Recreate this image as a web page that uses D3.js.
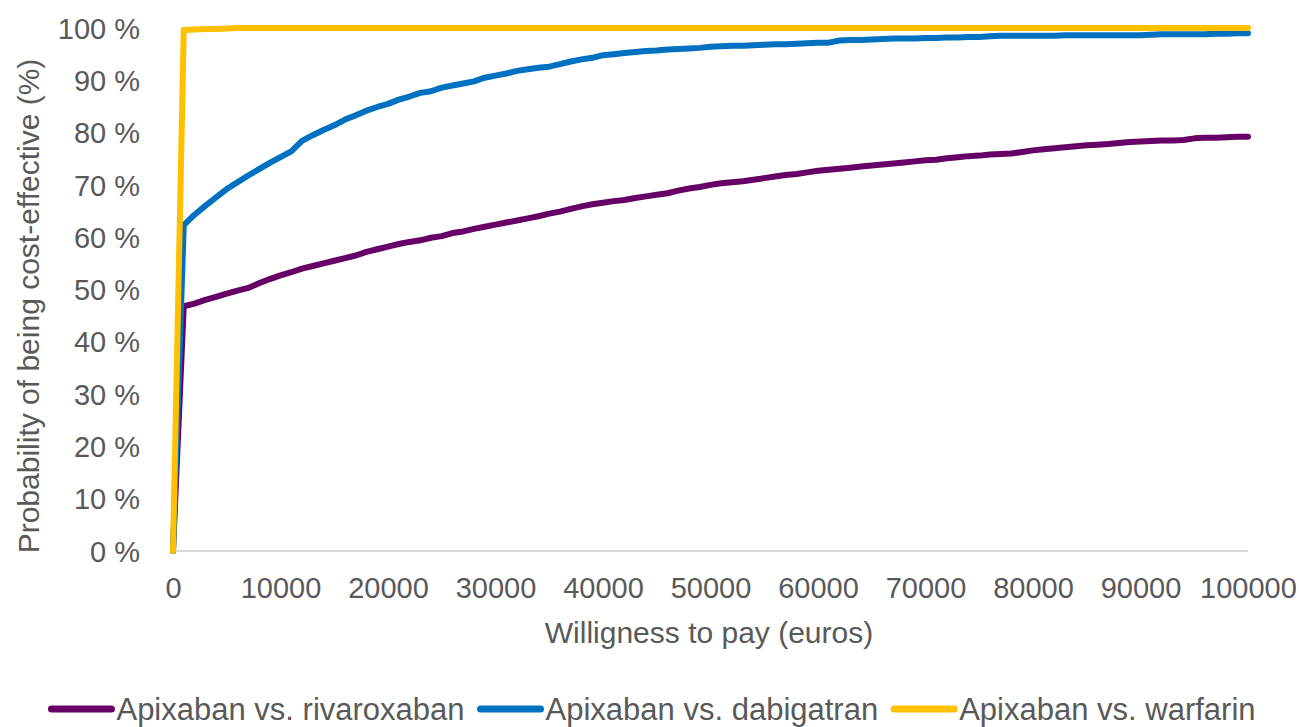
<!DOCTYPE html>
<html lang="en">
<head>
  <meta charset="UTF-8" />
  <title>Cost-effectiveness acceptability curves</title>
  <style>
    html, body {
      margin: 0; padding: 0;
      background: #fff;
      overflow: hidden;
    }
    svg { display: block; }
    text {
      font-family: "Liberation Sans", Arial, sans-serif;
      fill: #595959;
    }
  </style>
  <script src="https://d3js.org/d3.v7.min.js"></script>
</head>
<body>
  <svg id="chart" width="1299" height="727"></svg>

  <script>
    // willingness to pay, one point every 1000 euros
    const wtp = d3.range(0, 100001, 1000);

    const rivaroxaban = [
      0, 46.8, 47.3, 48.0, 48.6, 49.2, 49.8, 50.3, 51.2, 52.0,
      52.7, 53.3, 54.0, 54.5, 55.0, 55.5, 56.0, 56.5, 57.2, 57.7,
      58.2, 58.7, 59.1, 59.4, 59.9, 60.2, 60.8, 61.1, 61.6, 62.0,
      62.4, 62.8, 63.2, 63.6, 64.0, 64.5, 64.9, 65.4, 65.9, 66.3,
      66.6, 66.9, 67.1, 67.5, 67.8, 68.1, 68.4, 68.9, 69.3, 69.6,
      70.0, 70.3, 70.5, 70.7, 71.0, 71.3, 71.6, 71.9, 72.1, 72.4,
      72.7, 72.9, 73.1, 73.3, 73.5, 73.7, 73.9, 74.1, 74.3, 74.5,
      74.7, 74.8, 75.1, 75.3, 75.5, 75.6, 75.8, 75.9, 76.0, 76.3,
      76.6, 76.8, 77.0, 77.2, 77.4, 77.6, 77.7, 77.8, 78.0, 78.2,
      78.3, 78.4, 78.5, 78.5, 78.6, 78.9, 79.0, 79.0, 79.1, 79.2,
      79.2
    ];

    const dabigatran = [
      0, 62.3, 64.3, 66.0, 67.6, 69.2, 70.5, 71.8, 73.0, 74.2,
      75.3, 76.4, 78.4, 79.5, 80.5, 81.4, 82.5, 83.3, 84.2, 84.9,
      85.5, 86.3, 86.9, 87.6, 87.9, 88.6, 89.0, 89.4, 89.8, 90.5,
      90.9, 91.3, 91.8, 92.1, 92.4, 92.6, 93.1, 93.6, 94.0, 94.3,
      94.8, 95.0, 95.2, 95.4, 95.6, 95.7, 95.9, 96.0, 96.1, 96.2,
      96.4, 96.5, 96.6, 96.6, 96.7, 96.8, 96.9, 96.9, 97.0, 97.1,
      97.2, 97.2, 97.6, 97.7, 97.7, 97.8, 97.9, 98.0, 98.0, 98.0,
      98.1, 98.1, 98.2, 98.2, 98.3, 98.3, 98.4, 98.5, 98.5, 98.5,
      98.5, 98.5, 98.5, 98.6, 98.6, 98.6, 98.6, 98.6, 98.6, 98.6,
      98.6, 98.7, 98.8, 98.8, 98.8, 98.8, 98.8, 98.9, 98.9, 99.0,
      99.0
    ];

    const warfarin = [
      0, 99.6, 99.7, 99.8, 99.8, 99.9, 100, 100, 100, 100,
      100, 100, 100, 100, 100, 100, 100, 100, 100, 100,
      100, 100, 100, 100, 100, 100, 100, 100, 100, 100,
      100, 100, 100, 100, 100, 100, 100, 100, 100, 100,
      100, 100, 100, 100, 100, 100, 100, 100, 100, 100,
      100, 100, 100, 100, 100, 100, 100, 100, 100, 100,
      100, 100, 100, 100, 100, 100, 100, 100, 100, 100,
      100, 100, 100, 100, 100, 100, 100, 100, 100, 100,
      100, 100, 100, 100, 100, 100, 100, 100, 100, 100,
      100, 100, 100, 100, 100, 100, 100, 100, 100, 100,
      100
    ];

    const seriesNames = ["Apixaban vs. rivaroxaban", "Apixaban vs. dabigatran", "Apixaban vs. warfarin"];
    const seriesColors = ["#660066", "#0070C0", "#FFC000"];
    const seriesValues = [rivaroxaban, dabigatran, warfarin];

    const xTicks = d3.range(0, 100001, 10000);
    const yTicks = d3.range(0, 101, 10);

    const svg = d3.select("#chart");
    const plotLeft = 173, plotRight = 1248, plotTop = 28, plotBottom = 551;

    const x = d3.scaleLinear().domain([0, 100000]).range([plotLeft, plotRight]);
    const y = d3.scaleLinear().domain([0, 100]).range([plotBottom, plotTop]);

    // x axis line
    svg.append("line")
      .attr("x1", plotLeft).attr("x2", plotRight)
      .attr("y1", plotBottom).attr("y2", plotBottom)
      .attr("stroke", "#d9d9d9")
      .attr("stroke-width", 2);

    const xAxis = svg.append("g")
      .attr("transform", `translate(0,${plotBottom})`)
      .call(d3.axisBottom(x).tickValues(xTicks).tickSize(0).tickPadding(0).tickFormat(d => d));
    xAxis.select(".domain").remove();
    xAxis.selectAll("text")
      .attr("y", 47)
      .attr("dy", null)
      .style("font-size", "29px")
      .style("fill", "#595959");

    const yAxis = svg.append("g")
      .attr("transform", `translate(140,0)`)
      .call(d3.axisLeft(y).tickValues(yTicks).tickSize(0).tickPadding(0).tickFormat(d => d + " %"));
    yAxis.select(".domain").remove();
    yAxis.selectAll("text")
      .attr("x", 0)
      .attr("dy", "0.35em")
      .style("font-size", "29px")
      .style("fill", "#595959");

    // axis titles
    svg.append("text")
      .attr("x", 709)
      .attr("y", 643)
      .attr("text-anchor", "middle")
      .style("font-size", "30px")
      .text("Willigness to pay (euros)");

    svg.append("text")
      .attr("transform", "translate(39,306) rotate(-90)")
      .attr("text-anchor", "middle")
      .style("font-size", "30px")
      .text("Probability of being cost-effective (%)");

    // curves
    const line = d3.line()
      .x(d => x(d[0]))
      .y(d => y(d[1]));

    seriesValues.forEach((vals, i) => {
      svg.append("path")
        .datum(wtp.map((w, j) => [w, vals[j]]))
        .attr("fill", "none")
        .attr("stroke", seriesColors[i])
        .attr("stroke-width", 6)
        .attr("stroke-linejoin", "round")
        .attr("stroke-linecap", "round")
        .attr("d", line);
    });

    // legend
    const legend = svg.append("g");
    let lx = 0;
    seriesNames.forEach((name, i) => {
      const item = legend.append("g").attr("transform", `translate(${lx},0)`);
      item.append("line")
        .attr("x1", 3).attr("x2", 63)
        .attr("y1", 0).attr("y2", 0)
        .attr("stroke", seriesColors[i])
        .attr("stroke-width", 7)
        .attr("stroke-linecap", "round");
      const t = item.append("text")
        .attr("x", 68)
        .attr("y", 11)
        .style("font-size", "31px")
        .text(name);
      lx += 68 + t.node().getComputedTextLength() + 13;
    });
    legend.attr("transform", `translate(${652 - (lx - 13) / 2},709)`);
  </script>
</body>
</html>
